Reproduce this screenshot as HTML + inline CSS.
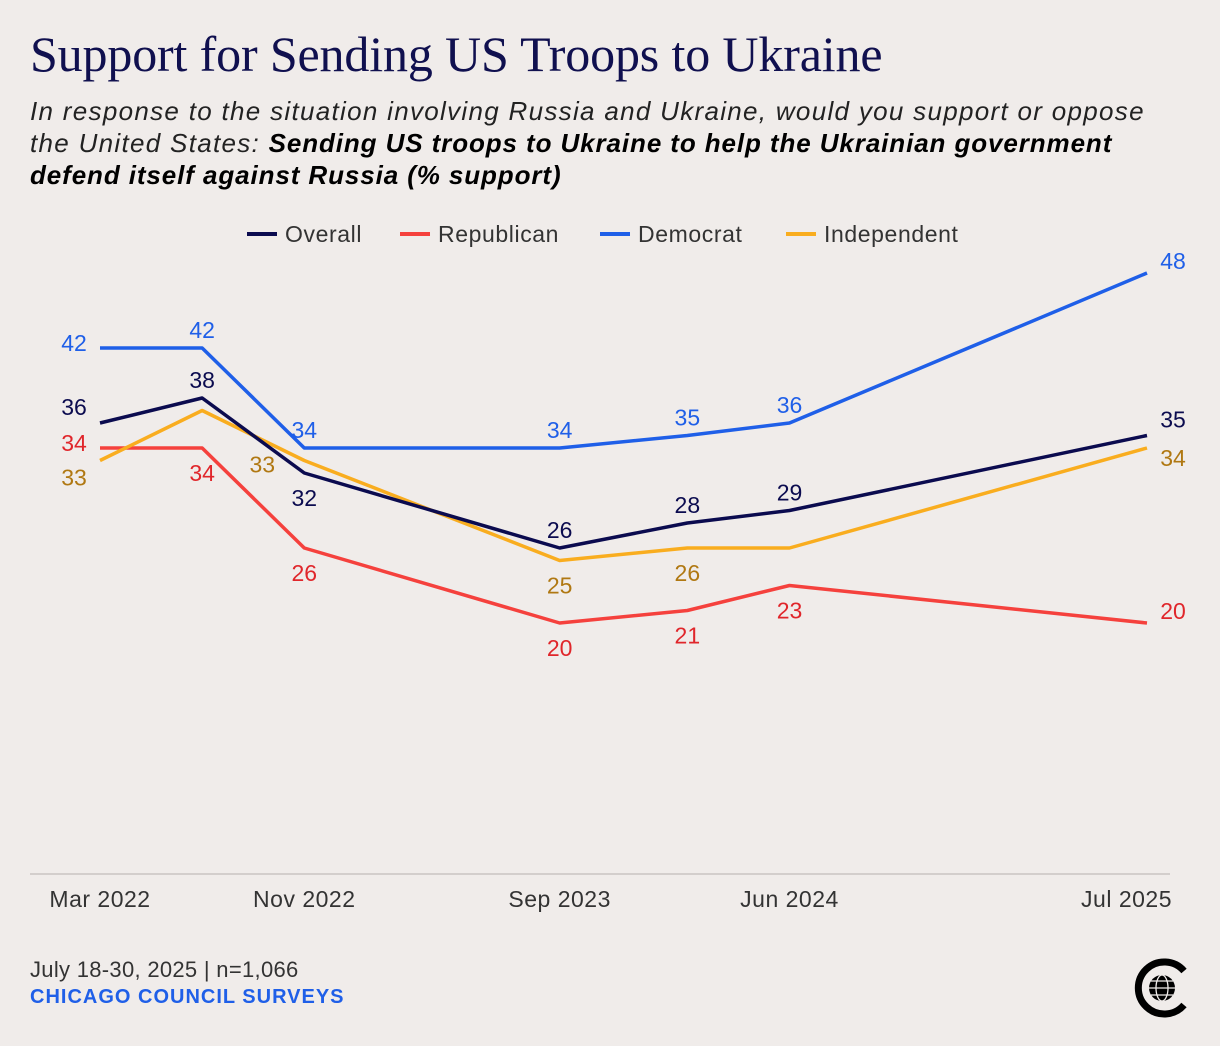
<!DOCTYPE html>
<html><head><meta charset="utf-8">
<style>
body{margin:0;background:#f0ecea;}
#wrap{position:relative;width:1220px;height:1046px;background:#f0ecea;overflow:hidden;font-family:"Liberation Sans",sans-serif;}
h1{position:absolute;left:30px;top:25px;margin:0;font-family:"Liberation Serif",serif;font-weight:normal;font-size:50px;color:#10104f;letter-spacing:-0.15px;}
.sub{position:absolute;left:30px;top:95px;width:1190px;font-size:26px;line-height:32px;color:#222;font-style:italic;letter-spacing:1.3px;white-space:nowrap;}
.sub b{color:#000;letter-spacing:0.9px;}
.foot{position:absolute;left:30px;font-size:22px;letter-spacing:0.3px;}
</style></head><body>
<div id="wrap">
<h1>Support for Sending US Troops to Ukraine</h1>
<div class="sub">In response to the situation involving Russia and Ukraine, would you support or oppose<br>the United States: <b>Sending US troops to Ukraine to help the Ukrainian government<br>defend itself against Russia (% support)</b></div>
<svg id="chart" width="1220" height="1046" style="position:absolute;left:0;top:0"></svg>
<div class="foot" style="top:957px;color:#333">July 18-30, 2025 | n=1,066</div>
<div class="foot" style="top:986px;color:#1f5fe8;font-weight:bold;font-size:20px;letter-spacing:1px">CHICAGO COUNCIL SURVEYS</div>
<svg width="70" height="70" style="position:absolute;left:1128px;top:953px" viewBox="0 0 70 70">
<path d="M56 18 A26 26 0 1 0 56 52" fill="none" stroke="#000" stroke-width="7"/>
<circle cx="34" cy="35" r="13" fill="#000"/>
<g stroke="#f0ecea" stroke-width="1.3" fill="none"><ellipse cx="34" cy="35" rx="6" ry="13"/><line x1="21" y1="35" x2="47" y2="35"/><line x1="23" y1="28" x2="45" y2="28"/><line x1="23" y1="42" x2="45" y2="42"/></g>
</svg>
</div>
<script>
const months=[0,4,8,18,23,27,41];
const tickLabels=["Mar 2022","Nov 2022","Sep 2023","Jun 2024","Jul 2025"];
const tickMonths=[0,8,18,27,41];
const seriesNames=["Overall","Republican","Democrat","Independent"];
const overall=[36,38,32,26,28,29,35];
const republican=[34,34,26,20,21,23,20];
const democrat=[42,42,34,34,35,36,48];
const independent=[33,37,33,25,26,26,34];
const values=[overall,republican,democrat,independent];
const colors=["#0b0b4f","#f5413d","#1f5fe8","#f9ad1f"];
const labelColors=["#0b0b4f","#e0262b","#1f5fe8","#b07812"];
const placement=[
 ["l","a","b","a","a","a","r"],
 ["l","b","b","b","b","b","r"],
 ["l","a","a","a","a","a","r"],
 ["lb","n","nl","b","b","n","rb"]];
const svg=document.getElementById('chart');
const NS="http://www.w3.org/2000/svg";
const x=m=>100+m*(1047/41);
const y=v=>873-12.5*v;
function el(t,a){const e=document.createElementNS(NS,t);for(const k in a)e.setAttribute(k,a[k]);svg.appendChild(e);return e;}
const base=el('line',{x1:30,x2:1170,y1:874,y2:874,stroke:'#c9c4c2','stroke-width':1.5});


tickLabels.forEach((t,i)=>{
 const last=i===tickLabels.length-1;
 const tx=el('text',{x:last?1172:x(tickMonths[i]),y:907,'text-anchor':last?'end':'middle','font-size':23,'letter-spacing':0.5,fill:'#333','font-family':'Liberation Sans,sans-serif'});
 tx.textContent=t;
 
 
});
const legX=[247,400,600,786];
seriesNames.forEach((n,i)=>{
 const l=el('line',{x1:legX[i],x2:legX[i]+30,y1:234,y2:234,stroke:colors[i],'stroke-width':4});
 
 
 const t=el('text',{x:legX[i]+38,y:242,'font-size':23,'letter-spacing':0.6,fill:'#333','font-family':'Liberation Sans,sans-serif'});
 t.textContent=n;
 
 
});
[1,3,0,2].forEach(s=>{
 const p=el('polyline',{points:values[s].map((v,i)=>x(months[i])+','+y(v)).join(' '),fill:'none',stroke:colors[s],'stroke-width':3.5,'stroke-linejoin':'round'});
 
 
});
values.forEach((arr,s)=>{
 arr.forEach((v,i)=>{
  const pl=placement[s][i];if(pl==='n')return;
  let px=x(months[i]),py=y(v),anc='middle';
  if(pl==='a')py-=10;
  else if(pl==='b')py+=33;
  else if(pl==='l'){px-=26;py+=3;}
  else if(pl==='lb'){px-=26;py+=25;}
  else if(pl==='nl'){px-=42;py+=12;}
  else if(pl==='r'){px+=26;py-=4;}
  else if(pl==='rb'){px+=26;py+=18;}
  if(pl==='l'&&s===0)py-=11;
  if(pl==='r'&&s===0)py-=4;
  const t=el('text',{x:px,y:py,'text-anchor':anc,'font-size':23,fill:labelColors[s],'font-family':'Liberation Sans,sans-serif'});
  t.textContent=v;
  
  
 });
});
</script>
</body></html>
